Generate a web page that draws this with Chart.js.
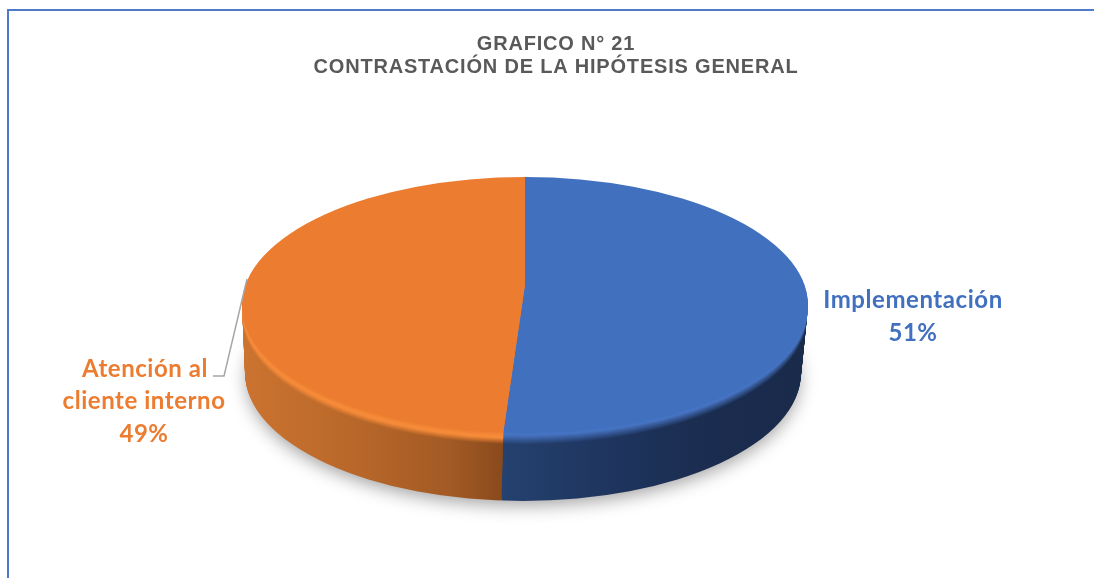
<!DOCTYPE html>
<html>
<head>
<meta charset="utf-8">
<title>Grafico 21</title>
<script src="https://cdn.jsdelivr.net/npm/chart.js@4/dist/chart.umd.js"></script>
<style>
  html, body { margin: 0; padding: 0; background: #fff; overflow: hidden; }
  #frame { position: absolute; left: 7px; top: 9px; right: 0; height: 600px;
           border-top: 2px solid #4f7acb; border-left: 2px solid #4f7acb; }
  #myChart { position: absolute; left: 0; top: 0; }
</style>
</head>
<body>
<div id="frame"></div>
<canvas id="myChart" width="1094" height="578"></canvas>
<script>
const categories = ['Implementación', 'Atención al cliente interno'];
const values = [51, 49];
const titleLines = ['GRAFICO N° 21', 'CONTRASTACIÓN DE LA HIPÓTESIS GENERAL'];

const faceColors = ['#4170bf', '#eb7c30'];
const rimColors = ['#4a78c9', '#f58a38'];
const rimFade = [10, 6];
// side wall shading, left to right on screen
const wallShades = [
  [[502, '#24416f'], [600, '#1f3660'], [700, '#1b2d50'], [808, '#192a4a']],
  [[242, '#cc7330'], [350, '#b9682a'], [450, '#a35a24'], [502, '#8a4a1c']]
];

// the disc: top face ellipse, how far the wall drops, and the wedge apex
const DISC = { cx: 525, cy: 305, rx: 283, ry: 128, depth: 68, bevel: 12, apexUp: 20, shrink: 5, drift: 2 };
const WEDGE_RX = 409, WEDGE_RY = 175;

function toRgb(c) {
  if (c[0] === '#') return [1, 3, 5].map(i => parseInt(c.slice(i, i + 2), 16));
  return c.match(/\d+/g).map(Number);
}
function mix(a, b, t) {
  const p = toRgb(a), q = toRgb(b);
  return 'rgb(' + p.map((v, i) => Math.round(v + (q[i] - v) * t)).join(',') + ')';
}

// draws one library arc as a flattened slice, clipped to one ellipse of the stack
function drawSlice(ctx, arc, d, fill) {
  const t = d / DISC.depth;
  const cx = DISC.cx - DISC.drift * t;
  const cy = DISC.cy + d;
  const rx = DISC.rx - DISC.shrink * t;
  const sx = WEDGE_RX / arc.outerRadius;
  const sy = WEDGE_RY / arc.outerRadius;
  const e = cx - arc.x * sx;
  const f = cy - DISC.apexUp - arc.y * sy;

  ctx.save();
  ctx.beginPath();
  ctx.ellipse(cx, cy, rx, DISC.ry, 0, 0, Math.PI * 2);
  ctx.clip();
  ctx.transform(sx, 0, 0, sy, e, f);

  const saved = arc.options;
  arc.options = Object.assign({}, saved, { backgroundColor: fill(x => (x - e) / sx) });
  arc.draw(ctx);
  arc.options = saved;
  ctx.restore();
}

const disc3d = {
  id: 'disc3d',
  beforeDraw(chart) {
    // the title is set a little wide
    chart.ctx.letterSpacing = '0.8px';
  },
  beforeDatasetsDraw(chart) {
    const ctx = chart.ctx;
    const arcs = chart.getDatasetMeta(0).data;
    ctx.letterSpacing = '0px';

    // soft shadow under the disc
    ctx.save();
    ctx.shadowColor = 'rgba(0,0,0,0.38)';
    ctx.shadowBlur = 18;
    ctx.shadowOffsetY = 6;
    ctx.fillStyle = '#fff';
    ctx.beginPath();
    ctx.ellipse(DISC.cx - DISC.drift, DISC.cy + DISC.depth, DISC.rx - DISC.shrink - 2, DISC.ry - 2, 0, 0, Math.PI * 2);
    ctx.fill();
    ctx.restore();

    // wall and bevel, stacked from the bottom up
    for (let d = DISC.depth; d >= 1; d--) {
      arcs.forEach((arc, i) => {
        const w = Math.min(1, Math.max(0, (DISC.bevel - d) / rimFade[i]));
        const v = Math.max(0, 1 - d / 4);
        drawSlice(ctx, arc, d, toLocal => {
          const stops = wallShades[i];
          const x0 = stops[0][0], x1 = stops[stops.length - 1][0];
          const g = ctx.createLinearGradient(toLocal(x0), 0, toLocal(x1), 0);
          stops.forEach(s => {
            g.addColorStop((s[0] - x0) / (x1 - x0), mix(mix(s[1], rimColors[i], w), faceColors[i], v));
          });
          return g;
        });
      });
    }

    // top face
    arcs.forEach((arc, i) => drawSlice(ctx, arc, 0, () => faceColors[i]));
    return false;
  }
};

const sliceLabels = {
  id: 'sliceLabels',
  afterDraw(chart) {
    const ctx = chart.ctx;
    ctx.save();
    ctx.font = 'bold 24px Lato, Carlito, sans-serif';
    ctx.letterSpacing = '0.55px';
    ctx.textAlign = 'center';
    ctx.textBaseline = 'middle';

    ctx.fillStyle = faceColors[0];
    ctx.fillText(categories[0], 913, 300);
    ctx.fillText(values[0] + '%', 913, 333);

    ctx.fillStyle = faceColors[1];
    ctx.fillText('Atención al', 145, 369);
    ctx.fillText('cliente interno', 144, 401);
    ctx.fillText(values[1] + '%', 144, 434);

    // leader line of the orange slice
    ctx.strokeStyle = '#a6a6a6';
    ctx.lineWidth = 1.5;
    ctx.beginPath();
    ctx.moveTo(213, 376);
    ctx.lineTo(224, 376);
    ctx.lineTo(247, 279);
    ctx.stroke();
    ctx.restore();
  }
};

const myChart = new Chart(document.getElementById('myChart'), {
  type: 'pie',
  data: {
    labels: categories,
    datasets: [{
      data: values,
      backgroundColor: faceColors,
      borderWidth: 0
    }]
  },
  options: {
    responsive: false,
    animation: false,
    layout: { padding: { left: 18 } },
    plugins: {
      legend: { display: false },
      tooltip: { enabled: false },
      title: {
        display: true,
        text: titleLines,
        color: '#595959',
        font: { family: '"Liberation Sans", Arial, sans-serif', size: 20, weight: 'bold', lineHeight: 1.15 },
        padding: { top: 33, bottom: 10 }
      }
    }
  },
  plugins: [disc3d, sliceLabels]
});
</script>
</body>
</html>
